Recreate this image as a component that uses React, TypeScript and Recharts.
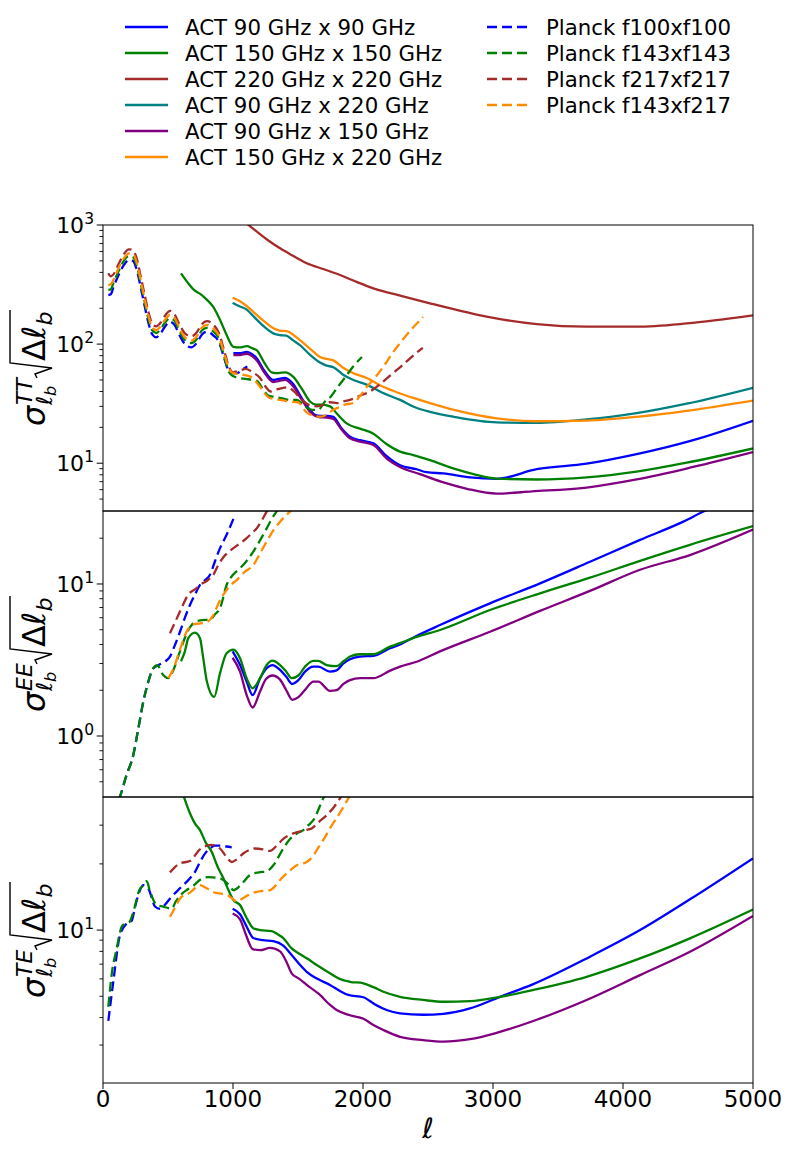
import React from 'react';
import { LineChart, Line, XAxis, YAxis } from 'recharts';

// [ell, sigma * sqrt(delta ell)]
const ttAct90 = [[1003, 84], [1050, 84], [1105, 86], [1150, 82], [1182, 76], [1240, 60], [1310, 50], [1350, 51], [1400, 52], [1464, 46], [1530, 35], [1592, 28], [1630, 25.5], [1670, 25], [1720, 25], [1772, 24.5], [1830, 20], [1900, 16.7], [1977, 15.6], [2080, 14.7], [2180, 11.5], [2285, 9.6], [2413, 8.9], [2490, 8.4], [2618, 8.2], [2823, 7.6], [3028, 7.4], [3336, 8.9], [3720, 9.9], [4105, 11.9], [4540, 15.6], [5000, 22.7]];
const ttAct150 = [[600, 393], [650, 330], [700, 285], [745, 265], [800, 235], [848, 205], [900, 160], [950, 120], [1003, 95], [1050, 94], [1105, 96], [1150, 92], [1182, 89], [1240, 70], [1297, 58], [1350, 57], [1400, 58], [1464, 53], [1530, 42], [1592, 33], [1640, 31], [1682, 31], [1746, 30], [1800, 26], [1874, 21.6], [1977, 19.5], [2080, 17.7], [2180, 14.5], [2285, 12.5], [2387, 11.7], [2515, 10.6], [2700, 9.0], [2850, 8.1], [3028, 7.43], [3336, 7.3], [3720, 7.6], [4105, 8.5], [4490, 10.1], [5000, 13.3]];
const ttAct220 = [[1080, 1080], [1130, 980], [1200, 850], [1280, 730], [1362, 637], [1450, 560], [1567, 477], [1700, 425], [1823, 380], [1950, 333], [2080, 294], [2300, 253], [2515, 220], [2750, 190], [2951, 170], [3336, 147], [3720, 140], [4105, 140], [4490, 149], [5000, 174]];
const ttAct90x220 = [[997, 222], [1050, 208], [1105, 195], [1160, 170], [1240, 140], [1310, 123], [1360, 119], [1410, 118], [1460, 108], [1515, 98], [1600, 80], [1669, 70], [1720, 66], [1772, 64], [1850, 55], [1926, 50], [2028, 45.7], [2150, 39], [2285, 34], [2400, 29.5], [2515, 27], [2700, 24.5], [3028, 22], [3336, 21.8], [3720, 23.3], [4105, 26.3], [4490, 31.6], [5000, 43]];
const ttAct90x150 = [[1003, 81], [1050, 81], [1105, 83], [1150, 79], [1182, 73], [1240, 58], [1310, 48], [1350, 49], [1400, 50], [1464, 44], [1530, 34], [1592, 27], [1630, 25], [1670, 24.3], [1720, 24.2], [1772, 23.5], [1830, 19.5], [1900, 16.2], [1977, 15.2], [2080, 14.2], [2180, 11], [2285, 9.3], [2438, 8.1], [2600, 7.0], [2800, 6.1], [3028, 5.56], [3300, 5.8], [3720, 6.25], [4105, 7.3], [4540, 9.3], [5000, 12.4]];
const ttAct150x220 = [[997, 245], [1050, 230], [1105, 209], [1160, 185], [1240, 155], [1310, 136], [1360, 130], [1420, 128], [1470, 118], [1515, 108], [1600, 90], [1669, 78], [1720, 75], [1772, 73], [1850, 63], [1926, 57], [2028, 52], [2150, 44], [2285, 38.5], [2400, 35], [2515, 32], [2700, 28], [3028, 23.8], [3336, 22.5], [3720, 22.8], [4105, 24.5], [4490, 27.5], [5000, 33.5]];
const ttPl100 = [[41, 258], [60, 262], [80, 300], [120, 380], [160, 460], [200, 508], [230, 500], [260, 420], [290, 300], [320, 210], [350, 150], [380, 120], [410, 114], [440, 122], [480, 142], [515, 154], [550, 145], [590, 118], [630, 100], [680, 94], [720, 102], [760, 120], [800, 127], [850, 118], [890, 105], [930, 78], [960, 62], [990, 57], [1030, 57], [1070, 61], [1110, 65]];
const ttPl143 = [[41, 285], [60, 288], [80, 325], [120, 410], [160, 500], [200, 549], [230, 540], [260, 455], [290, 325], [320, 228], [350, 162], [380, 130], [410, 124], [440, 132], [480, 153], [515, 165], [550, 157], [590, 128], [630, 108], [680, 102], [720, 110], [760, 130], [800, 137], [850, 127], [890, 112], [930, 80], [970, 58], [1000, 54], [1050, 52], [1100, 51], [1150, 50], [1185, 49], [1230, 42], [1270, 37], [1320, 36], [1380, 35], [1440, 34], [1490, 34], [1554, 30], [1610, 28], [1654, 28], [1708, 33], [1750, 36], [1808, 44], [1860, 52], [1920, 64], [1992, 78]];
const ttPl217 = [[41, 393], [60, 370], [80, 385], [120, 470], [160, 570], [200, 625], [230, 615], [260, 520], [290, 370], [320, 260], [350, 185], [380, 148], [410, 141], [440, 150], [480, 175], [515, 190], [550, 178], [590, 145], [630, 123], [680, 116], [720, 125], [760, 147], [800, 156], [850, 145], [890, 125], [930, 90], [970, 64], [1000, 58], [1050, 60], [1100, 62], [1150, 58], [1208, 52], [1250, 44], [1290, 40], [1350, 42], [1423, 43.4], [1470, 40], [1523, 34.6], [1580, 31], [1646, 30], [1700, 31], [1746, 32.5], [1800, 32], [1846, 33], [1900, 34], [1980, 37], [2054, 40], [2140, 47], [2230, 57], [2300, 66], [2362, 76], [2420, 86], [2460, 93]];
const ttPl143x217 = [[41, 313], [60, 318], [80, 345], [120, 435], [160, 525], [200, 578], [230, 570], [260, 480], [290, 345], [320, 240], [350, 172], [380, 137], [410, 131], [440, 139], [480, 162], [515, 176], [550, 166], [590, 135], [630, 114], [680, 107], [720, 116], [760, 137], [800, 145], [850, 135], [890, 118], [930, 85], [970, 62], [1000, 57], [1050, 56], [1092, 55], [1150, 52], [1200, 45], [1270, 36], [1320, 34.5], [1362, 34], [1430, 33], [1500, 32.5], [1562, 27], [1620, 25], [1677, 24.6], [1730, 26], [1769, 28], [1800, 29], [1860, 31], [1923, 32], [1980, 37], [2031, 44], [2090, 52], [2154, 64], [2220, 82], [2285, 102], [2370, 132], [2462, 169]];

const eeAct90 = [[997, 3.6], [1054, 2.93], [1105, 2.28], [1151, 1.86], [1208, 2.39], [1259, 2.79], [1303, 2.93], [1362, 2.72], [1410, 2.45], [1456, 2.2], [1503, 2.33], [1554, 2.65], [1618, 2.86], [1656, 2.86], [1746, 2.65], [1797, 2.7], [1850, 3.0], [1900, 3.2], [1977, 3.33], [2080, 3.37], [2208, 3.78], [2285, 4.0], [2400, 4.5], [2592, 5.37], [2977, 7.46], [3362, 10.1], [3746, 14], [4131, 19.5], [4464, 25.7], [4631, 30.3], [5000, 40]];
const eeAct150 = [[600, 3.1], [630, 3.6], [656, 4.4], [708, 4.78], [746, 4.4], [770, 3.3], [797, 2.33], [856, 1.81], [900, 2.58], [951, 3.5], [1003, 3.7], [1054, 3.25], [1105, 2.4], [1151, 2.06], [1208, 2.4], [1259, 2.93], [1303, 3.13], [1362, 2.93], [1410, 2.65], [1451, 2.4], [1503, 2.5], [1554, 2.86], [1618, 3.12], [1656, 3.12], [1720, 2.93], [1797, 2.88], [1850, 3.1], [1900, 3.33], [1977, 3.45], [2080, 3.45], [2208, 3.87], [2285, 4.08], [2400, 4.45], [2592, 4.98], [2977, 6.74], [3362, 8.68], [3746, 11], [4131, 14.2], [4515, 18.1], [5000, 24]];
const eeAct90x150 = [[997, 3.27], [1054, 2.65], [1105, 1.86], [1151, 1.54], [1208, 1.96], [1254, 2.37], [1303, 2.5], [1362, 2.35], [1410, 2.0], [1456, 1.73], [1503, 1.8], [1554, 2.01], [1618, 2.28], [1656, 2.28], [1746, 1.98], [1797, 2.0], [1850, 2.2], [1900, 2.33], [1977, 2.4], [2080, 2.4], [2208, 2.69], [2285, 2.86], [2413, 3.08], [2592, 3.6], [2977, 4.85], [3362, 6.65], [3746, 9], [4131, 12.4], [4515, 15.5], [5000, 22.8]];
const eePl100 = [[41, 0.25], [90, 0.33], [131, 0.4], [180, 0.55], [233, 0.75], [270, 1.1], [310, 1.68], [350, 2.3], [387, 2.79], [438, 2.96], [480, 3.1], [515, 3.33], [550, 3.9], [592, 4.85], [630, 6.0], [669, 7.28], [710, 8.6], [746, 9.85], [785, 10.6], [823, 11.5], [860, 14], [900, 17.2], [950, 21], [1003, 26.8]];
const eePl143 = [[41, 0.25], [90, 0.33], [131, 0.4], [180, 0.55], [233, 0.75], [270, 1.1], [310, 1.68], [350, 2.3], [387, 2.79], [420, 2.92], [451, 2.6], [502, 2.4], [540, 2.7], [592, 3.6], [656, 4.98], [720, 5.7], [790, 5.8], [823, 5.8], [860, 6.3], [900, 6.92], [951, 9.85], [1000, 11.5], [1054, 12.7], [1100, 14], [1156, 16.3], [1210, 19.5], [1259, 23.2], [1300, 27], [1336, 30], [1380, 34]];
const eePl217 = [[515, 4.74], [550, 5.5], [592, 6.58], [656, 8.5], [720, 9.4], [746, 9.85], [800, 10.5], [849, 11.5], [890, 13.5], [926, 15], [965, 16.2], [1003, 17.2], [1055, 18.5], [1105, 20], [1150, 21.8], [1182, 23.2], [1220, 26], [1259, 29.9], [1290, 33]];
const eePl143x217 = [[502, 2.4], [540, 2.75], [592, 3.7], [640, 4.8], [695, 5.43], [750, 5.5], [797, 5.6], [849, 6.25], [890, 7.5], [926, 8.5], [980, 9.8], [1028, 10.6], [1090, 12], [1156, 13.3], [1210, 16], [1259, 19], [1310, 22.5], [1362, 25.7], [1438, 30], [1480, 33]];

const teAct90 = [[997, 12.5], [1054, 11.8], [1100, 10.5], [1156, 9.2], [1230, 9.0], [1310, 8.9], [1387, 8.5], [1451, 7.7], [1510, 7.0], [1567, 6.46], [1650, 6.0], [1746, 5.63], [1820, 5.3], [1887, 5.07], [2003, 4.95], [2090, 4.6], [2182, 4.33], [2285, 4.18], [2462, 4.12], [2618, 4.16], [2823, 4.4], [3054, 4.97], [3310, 5.68], [3746, 7.57], [4131, 10], [4515, 13.8], [5000, 21.2]];
const teAct150 = [[600, 44], [618, 41], [660, 35], [708, 30.5], [746, 28.5], [790, 25], [836, 22.7], [880, 19.5], [926, 17.2], [965, 15.2], [1003, 13.7], [1054, 13], [1100, 11.5], [1156, 10.2], [1208, 10], [1297, 9.9], [1340, 9.6], [1387, 9.2], [1451, 8.25], [1510, 7.8], [1567, 7.44], [1650, 6.9], [1746, 6.36], [1820, 6.0], [1900, 5.82], [2003, 5.73], [2080, 5.5], [2157, 5.24], [2285, 4.97], [2462, 4.81], [2618, 4.72], [2823, 4.75], [3054, 4.97], [3310, 5.34], [3720, 6.13], [4131, 7.43], [4515, 9.17], [5000, 12.4]];
const teAct90x150 = [[997, 11.9], [1054, 11.2], [1100, 9.5], [1151, 8.2], [1208, 8.1], [1285, 8.3], [1362, 8.0], [1410, 7.2], [1451, 6.36], [1510, 6.0], [1567, 5.63], [1669, 5.07], [1740, 4.6], [1797, 4.33], [1900, 4.1], [2003, 3.95], [2080, 3.7], [2157, 3.51], [2285, 3.27], [2462, 3.16], [2618, 3.11], [2823, 3.19], [3028, 3.41], [3310, 3.86], [3720, 4.81], [4131, 6.24], [4515, 7.97], [5000, 11.6]];
const tePl100 = [[41, 3.86], [79, 5.82], [131, 9.5], [182, 10.7], [220, 11], [250, 13], [279, 14.9], [310, 16], [350, 15.4], [400, 12.8], [438, 12.5], [475, 13], [515, 13.9], [592, 15.5], [669, 17.2], [710, 18.5], [746, 20.4], [790, 22.5], [823, 23.5], [860, 24.2], [900, 24.2], [951, 24], [990, 23.8]];
const tePl143 = [[41, 4.48], [70, 6.5], [100, 7.97], [150, 10.5], [200, 10.8], [240, 12.5], [279, 15.2], [310, 16], [336, 16.7], [362, 15], [413, 13], [463, 12.8], [528, 12.5], [560, 13.5], [600, 14.5], [650, 15.3], [695, 15.9], [750, 17], [810, 17.4], [870, 17.3], [926, 16.9], [970, 16], [1003, 15.2], [1054, 15.9], [1131, 17.8], [1200, 18.3], [1259, 18.5], [1310, 19.7], [1387, 23.5], [1440, 26], [1490, 27.5], [1541, 28.5], [1580, 30], [1618, 31.6], [1682, 38.3], [1720, 43]];
const tePl217 = [[515, 18.3], [592, 20.1], [669, 20.6], [746, 23.3], [836, 24.4], [900, 23.5], [950, 21.5], [990, 20.4], [1030, 21], [1079, 22.3], [1130, 23.2], [1169, 23.5], [1230, 23.3], [1285, 22.9], [1330, 24], [1387, 26], [1440, 27.2], [1503, 28], [1560, 28.5], [1605, 29], [1660, 31], [1720, 33.3], [1780, 36.5], [1823, 39.7], [1860, 43]];
const tePl143x217 = [[515, 11.5], [550, 12.5], [592, 13.9], [669, 14.8], [746, 16], [797, 15.5], [862, 14.8], [951, 14.5], [990, 14], [1028, 13.5], [1080, 14], [1131, 14.6], [1200, 15], [1285, 15.2], [1330, 16], [1374, 17.2], [1430, 18.5], [1490, 19.7], [1567, 20.4], [1610, 21.5], [1644, 23.1], [1700, 26], [1746, 29], [1820, 34], [1887, 39.7], [1920, 43]];

const xTicks = [0, 1000, 2000, 3000, 4000, 5000];
const ttTicks = [5, 6, 7, 8, 9, 10, 20, 30, 40, 50, 60, 70, 80, 90, 100, 200, 300, 400, 500, 600, 700, 800, 900, 1000];
const eeTicks = [0.5, 0.6, 0.7, 0.8, 0.9, 1, 2, 3, 4, 5, 6, 7, 8, 9, 10, 20];
const teTicks = [3, 4, 5, 6, 7, 8, 9, 10, 20, 30];

const actLabels = ['ACT 90 GHz x 90 GHz', 'ACT 150 GHz x 150 GHz', 'ACT 220 GHz x 220 GHz', 'ACT 90 GHz x 220 GHz', 'ACT 90 GHz x 150 GHz', 'ACT 150 GHz x 220 GHz'];
const actColors = ['#0000ff', '#008000', '#a52a2a', '#008080', '#800080', '#ff8c00'];
const planckLabels = ['Planck f100xf100', 'Planck f143xf143', 'Planck f217xf217', 'Planck f143xf217'];
const planckColors = ['#0000ff', '#008000', '#a52a2a', '#ff8c00'];

const FONT = 'DejaVu Sans';
const PL = 103;
const PW = 650;
const PH = 286;
const PAD = 30; // room above each panel so tick labels are not cut
const DASH = '10 5';
const LW = 2.3;

const pts = (arr: number[][]) => arr.map(([l, v]) => ({ l, v }));

type Series = { data: number[][]; color: string; dashed?: boolean };

function LogTick(props: any) {
  const { y, payload } = props;
  const v = payload.value;
  const e = Math.round(Math.log10(v));
  const major = Math.abs(Math.log10(v) - e) < 1e-6;
  if (!major) {
    return <line x1={PL - 3.6} x2={PL} y1={y} y2={y} stroke="#000" strokeWidth={0.9} />;
  }
  return (
    <g>
      <line x1={PL - 6.3} x2={PL} y1={y} y2={y} stroke="#000" strokeWidth={1} />
      <text x={PL - 9} y={y + 8} textAnchor="end" fontFamily={FONT} fontSize={22} fill="#000">
        10<tspan dy={-9} fontSize={15.5}>{e}</tspan>
      </text>
    </g>
  );
}

function Panel({ top, domain, ticks, series, showX }: { top: number; domain: number[]; ticks: number[]; series: Series[]; showX?: boolean }) {
  const h = PH + PAD + 10 + (showX ? 40 : 0);
  return (
    <div style={{ position: 'absolute', left: 0, top: top - PAD }}>
      <LineChart width={789} height={h} margin={{ top: PAD, right: 36, bottom: 10, left: 43 }}>
        <XAxis
          type="number"
          dataKey="l"
          domain={[0, 5000]}
          ticks={xTicks}
          interval={0}
          hide={!showX}
          height={40}
          allowDataOverflow
          axisLine={false}
          tickSize={6}
          tickLine={{ stroke: '#000' }}
          tick={{ fill: '#000', fontSize: 23, fontFamily: FONT }}
        />
        <YAxis
          scale="log"
          domain={domain}
          allowDataOverflow
          ticks={ticks}
          interval={0}
          width={60}
          axisLine={false}
          tickLine={false}
          tick={<LogTick />}
        />
        {series.map((s, i) => (
          <Line
            key={i}
            data={pts(s.data)}
            dataKey="v"
            type="monotone"
            stroke={s.color}
            strokeWidth={LW}
            strokeDasharray={s.dashed ? DASH : undefined}
            dot={false}
            activeDot={false}
            isAnimationActive={false}
          />
        ))}
      </LineChart>
    </div>
  );
}

function YLabel({ cx, cy, tag }: { cx: number; cy: number; tag: string }) {
  return (
    <g transform={`translate(${cx},${cy}) rotate(-90)`} fontFamily={FONT} fill="#000">
      <text x={-58} y={0} fontSize={32} fontStyle="italic">σ</text>
      <text x={-37} y={-13} fontSize={22} fontStyle="italic">{tag}</text>
      <text x={-37} y={7} fontSize={22} fontStyle="italic">ℓ</text>
      <text x={-28} y={11} fontSize={16} fontStyle="italic">b</text>
      <path d="M -10 -8 L -6 -10 L 0 7 L 5 -35 L 58 -35" fill="none" stroke="#000" strokeWidth={1.4} />
      <text x={7} y={0} fontSize={32}>Δ</text>
      <text x={29} y={0} fontSize={32} fontStyle="italic">ℓ</text>
      <text x={42.5} y={7} fontSize={22} fontStyle="italic">b</text>
    </g>
  );
}

export default function App() {
  const ttSeries: Series[] = [
    { data: ttAct90, color: actColors[0] },
    { data: ttAct150, color: actColors[1] },
    { data: ttAct220, color: actColors[2] },
    { data: ttAct90x220, color: actColors[3] },
    { data: ttAct90x150, color: actColors[4] },
    { data: ttAct150x220, color: actColors[5] },
    { data: ttPl100, color: planckColors[0], dashed: true },
    { data: ttPl143, color: planckColors[1], dashed: true },
    { data: ttPl217, color: planckColors[2], dashed: true },
    { data: ttPl143x217, color: planckColors[3], dashed: true },
  ];
  const eeSeries: Series[] = [
    { data: eeAct90, color: actColors[0] },
    { data: eeAct150, color: actColors[1] },
    { data: eeAct90x150, color: actColors[4] },
    { data: eePl100, color: planckColors[0], dashed: true },
    { data: eePl143, color: planckColors[1], dashed: true },
    { data: eePl217, color: planckColors[2], dashed: true },
    { data: eePl143x217, color: planckColors[3], dashed: true },
  ];
  const teSeries: Series[] = [
    { data: teAct90, color: actColors[0] },
    { data: teAct150, color: actColors[1] },
    { data: teAct90x150, color: actColors[4] },
    { data: tePl100, color: planckColors[0], dashed: true },
    { data: tePl143, color: planckColors[1], dashed: true },
    { data: tePl217, color: planckColors[2], dashed: true },
    { data: tePl143x217, color: planckColors[3], dashed: true },
  ];

  return (
    <div style={{ position: 'absolute', left: 0, top: 0, width: 789, height: 1152, overflow: 'hidden', background: '#fff' }}>
      <Panel top={225} domain={[3.97, 1000]} ticks={ttTicks} series={ttSeries} />
      <Panel top={511} domain={[0.397, 30.2]} ticks={eeTicks} series={eeSeries} />
      <Panel top={797} domain={[2.016, 40.3]} ticks={teTicks} series={teSeries} showX />
      <svg width={789} height={1152} style={{ position: 'absolute', left: 0, top: 0, pointerEvents: 'none' }}>
        {[225, 511, 797].map((t) => (
          <rect key={t} x={PL} y={t} width={PW} height={PH} fill="none" stroke="#000" strokeWidth={1} />
        ))}
        <YLabel cx={45} cy={368} tag="TT" />
        <YLabel cx={45} cy={654} tag="EE" />
        <YLabel cx={45} cy={940} tag="TE" />
        <text x={428} y={1138} textAnchor="middle" fontFamily={FONT} fontSize={28} fontStyle="italic">ℓ</text>
        {actLabels.map((lab, i) => (
          <g key={lab}>
            <line x1={125} x2={168} y1={27 + 26 * i} y2={27 + 26 * i} stroke={actColors[i]} strokeWidth={LW} />
            <text x={185} y={27 + 26 * i + 7.5} fontFamily={FONT} fontSize={21.3}>{lab}</text>
          </g>
        ))}
        {planckLabels.map((lab, i) => (
          <g key={lab}>
            <line x1={487} x2={530} y1={27 + 26 * i} y2={27 + 26 * i} stroke={planckColors[i]} strokeWidth={LW} strokeDasharray={DASH} />
            <text x={546} y={27 + 26 * i + 7.5} fontFamily={FONT} fontSize={21.3}>{lab}</text>
          </g>
        ))}
      </svg>
    </div>
  );
}
